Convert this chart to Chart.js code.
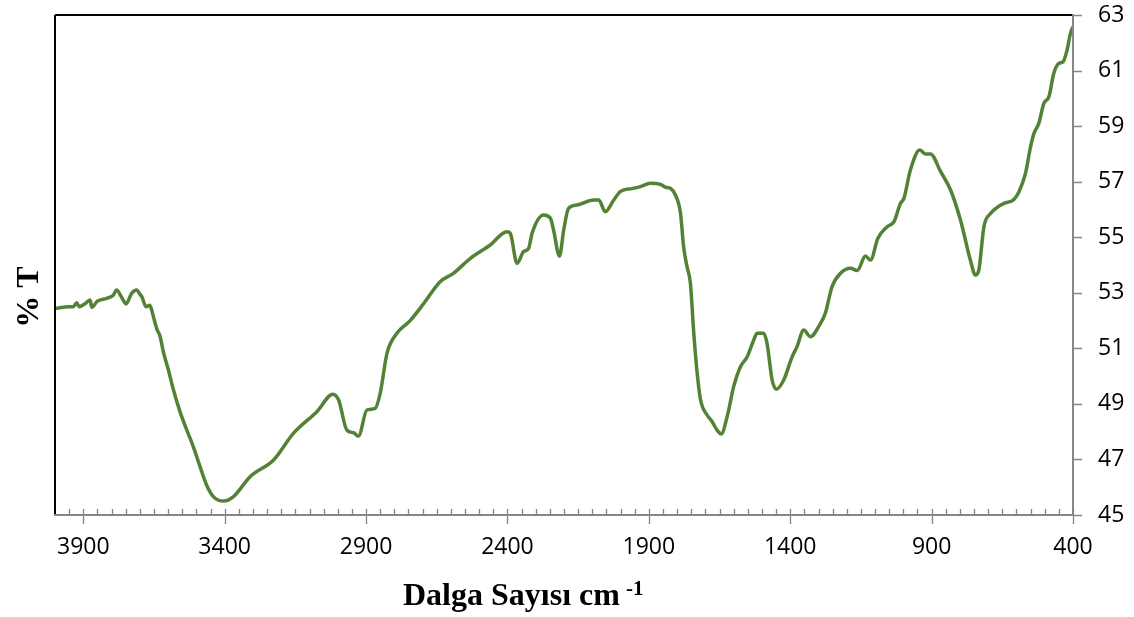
<!DOCTYPE html>
<html><head><meta charset="utf-8">
<script src="https://cdn.jsdelivr.net/npm/chart.js@4"></script>
<style>html,body{margin:0;padding:0;background:#fff}#wrap{width:1134px;height:617px;position:relative}</style>
</head><body><div id="wrap"><canvas id="c" width="1134" height="617"></canvas></div>
<script>
const wavenumbers = [4000,3950,3935,3923,3915,3895,3876,3870,3850,3817,3795,3782,3765,3749,3729,3711,3700,3693,3678,3665,3658,3652,3640,3628,3617,3599,3581,3558,3534,3511,3487,3464,3440,3404,3369,3310,3227,3157,3074,3017,2997,2968,2944,2927,2897,2868,2850,2826,2791,2744,2697,2638,2591,2531,2461,2402,2390,2366,2343,2325,2313,2272,2248,2237,2216,2201,2184,2154,2095,2077,2054,2024,2000,1960,1930,1894,1859,1841,1824,1806,1788,1777,1765,1753,1741,1729,1717,1694,1676,1659,1644,1623,1600,1576,1552,1529,1517,1494,1482,1464,1449,1423,1393,1376,1352,1329,1293,1276,1252,1222,1187,1163,1134,1116,1090,1057,1033,1010,998,975,942,922,904,868,833,798,763,745,733,715,691,667,644,609,591,568,550,538,521,503,485,468,450,435,421,409,400];
const transmittance = [52.44,52.5,52.5,52.64,52.5,52.6,52.74,52.48,52.7,52.8,52.9,53.1,52.85,52.6,52.98,53.1,52.95,52.86,52.5,52.55,52.38,52.14,51.7,51.42,50.88,50.22,49.5,48.72,48.06,47.46,46.74,46.08,45.66,45.5,45.66,46.38,46.98,47.94,48.72,49.35,49.14,48.06,47.96,47.84,48.78,48.84,49.38,50.82,51.54,52.0,52.6,53.4,53.7,54.24,54.72,55.2,55.14,54.06,54.48,54.6,55.14,55.8,55.68,55.26,54.32,55.26,56.04,56.16,56.34,56.34,55.92,56.34,56.65,56.75,56.82,56.94,56.9,56.8,56.76,56.52,55.86,54.66,53.94,53.34,51.54,50.1,49.14,48.6,48.36,48.06,47.92,48.54,49.62,50.34,50.7,51.3,51.54,51.54,51.18,49.86,49.53,49.86,50.7,51.06,51.66,51.42,51.9,52.26,53.22,53.7,53.88,53.8,54.32,54.18,54.96,55.38,55.56,56.22,56.4,57.42,58.14,58.0,58.0,57.36,56.7,55.62,54.18,53.64,53.82,55.38,55.86,56.08,56.22,56.36,56.64,57.3,58.26,58.74,59.1,59.82,60.06,60.9,61.26,61.32,61.74,62.34,62.58];
const xTickValues = [3900,3400,2900,2400,1900,1400,900,400];
const yTickValues = [45,47,49,51,53,55,57,59,61,63];
const xTitle = "Dalga Sayısı cm";
const xTitleSup = "-1";
const yTitle = "% T";

const points = wavenumbers.map((w,i)=>({x:w,y:transmittance[i]}));

const framePlugin = {
  id:'frame',
  afterDatasetsDraw(chart){
    const ctx = chart.ctx, a = chart.chartArea, xs = chart.scales.x, ys = chart.scales.y;
    ctx.save();
    ctx.lineCap='butt';
    ctx.strokeStyle='#000'; ctx.lineWidth=2;
    ctx.beginPath(); ctx.moveTo(a.left, a.top); ctx.lineTo(a.right, a.top);
    ctx.moveTo(a.left, a.top); ctx.lineTo(a.left, a.bottom); ctx.stroke();
    ctx.strokeStyle='#868686'; ctx.lineWidth=2;
    ctx.beginPath(); ctx.moveTo(a.left-1, a.bottom); ctx.lineTo(a.right, a.bottom);
    ctx.moveTo(a.right, a.top-1); ctx.lineTo(a.right, a.bottom+1); ctx.stroke();
    ctx.lineWidth=1.3;
    ctx.beginPath();
    for(let v=3950; v>=450; v-=50){
      const px = Math.round(xs.getPixelForValue(v))+0.5;
      ctx.moveTo(px, a.bottom); ctx.lineTo(px, a.bottom-6);
    }
    xTickValues.forEach(v=>{
      const px = Math.round(xs.getPixelForValue(v))+0.5;
      ctx.moveTo(px, a.bottom-6); ctx.lineTo(px, a.bottom+9);
    });
    yTickValues.forEach(v=>{
      const py = Math.round(ys.getPixelForValue(v))+0.5;
      ctx.moveTo(a.right, py); ctx.lineTo(a.right+9, py);
    });
    ctx.stroke();
    ctx.fillStyle='#000';
    ctx.font='bold 32px "Liberation Serif", "Times New Roman", serif';
    ctx.textAlign='left'; ctx.textBaseline='alphabetic';
    ctx.fillText(xTitle, 403, 605);
    const w = ctx.measureText(xTitle).width;
    ctx.font='bold 21px "Liberation Serif", "Times New Roman", serif';
    ctx.fillText(xTitleSup, 403 + w + 6, 595);
    ctx.save();
    ctx.translate(38, 297); ctx.rotate(-Math.PI/2);
    ctx.font='bold 32px "Liberation Serif", "Times New Roman", serif';
    ctx.textAlign='center'; ctx.textBaseline='alphabetic';
    ctx.fillText(yTitle, 0, 0);
    ctx.restore();
    ctx.restore();
  }
};

new Chart(document.getElementById('c'), {
  type:'line',
  data:{datasets:[{data:points, borderColor:'rgb(84,130,53)', borderWidth:3.5, pointRadius:0, fill:false, cubicInterpolationMode:'monotone', tension:0.4}]},
  options:{
    responsive:false, animation:false, devicePixelRatio:1,
    layout:{padding:{left:55, top:15, right:0, bottom:0}},
    plugins:{legend:{display:false}, tooltip:{enabled:false}, title:{display:false}},
    scales:{
      x:{type:'linear', position:'bottom', reverse:true, min:400, max:4000,
         grid:{display:false, drawTicks:false}, border:{display:false},
         afterBuildTicks:s=>{s.ticks = xTickValues.map(v=>({value:v}));},
         afterFit:s=>{s.height=102; s.paddingLeft=0; s.paddingRight=0;},
         ticks:{color:'#000', font:{family:'"Open Sans"', size:23}, padding:19, maxRotation:0, autoSkip:false, callback:v=>String(v)}},
      y:{type:'linear', position:'right', min:45, max:63,
         grid:{display:false, drawTicks:false}, border:{display:false},
         afterBuildTicks:s=>{s.ticks = yTickValues.map(v=>({value:v}));},
         afterFit:s=>{s.width=61; s.paddingTop=0; s.paddingBottom=0;},
         ticks:{color:'#000', font:{family:'"Open Sans"', size:23}, padding:25, autoSkip:false, callback:v=>String(v)}}
    }
  },
  plugins:[framePlugin]
});
</script></body></html>
